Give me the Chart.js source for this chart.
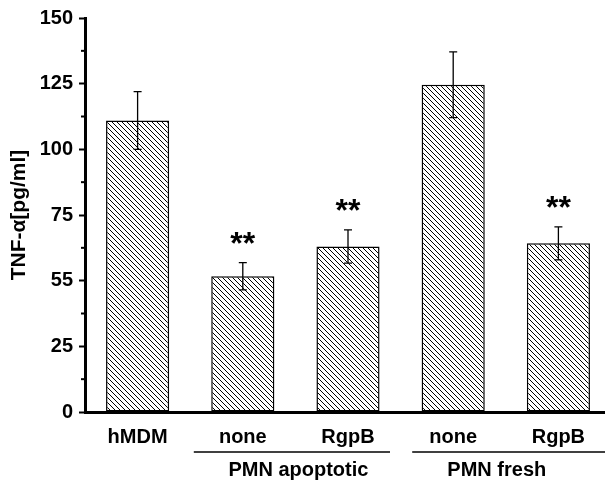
<!DOCTYPE html>
<html>
<head>
<meta charset="utf-8">
<script src="https://cdn.jsdelivr.net/npm/chart.js@4"></script>
<style>
  html, body { margin: 0; padding: 0; background: #fff; overflow: hidden; }
  #wrap { width: 611px; height: 481px; }
</style>
</head>
<body>
<div id="wrap"><canvas id="canvas" width="611" height="481"></canvas></div>
<script>
var categories = ['hMDM', 'none', 'RgpB', 'none', 'RgpB'];
var values = [111, 51.7, 63, 124.6, 64.2];
var errors = [11, 5.2, 6.3, 12.5, 6.3];
var marks = ['', '**', '**', '', '**'];
var groupLabels = ['PMN apoptotic', 'PMN fresh'];
var groupStart = [1, 3];
var groupEnd = [2, 4];
var yTicks = [0, 25, 50, 75, 100, 125, 150];
var yTickLabels = ['0', '25', '55', '75', '100', '125', '150'];

var FONT = '"Liberation Sans", Arial, Helvetica, sans-serif';

function hatch() {
    var c = document.createElement('canvas');
    var s = 5;
    c.width = s; c.height = s;
    var g = c.getContext('2d');
    g.fillStyle = '#fff';
    g.fillRect(0, 0, s, s);
    g.strokeStyle = '#000';
    g.lineWidth = 1;
    g.beginPath();
    g.moveTo(-1, -1); g.lineTo(s + 1, s + 1);
    g.moveTo(-1, s - 1); g.lineTo(1, s + 1);
    g.moveTo(s - 1, -1); g.lineTo(s + 1, 1);
    g.stroke();
    return g.createPattern(c, 'repeat');
}

var extras = {
    id: 'extras',
    afterDatasetsDraw: function (chart) {
        var ctx = chart.ctx;
        var y = chart.scales.y;
        var x = chart.scales.x;
        var meta = chart.getDatasetMeta(0);
        ctx.save();
        // error bars
        ctx.strokeStyle = '#000';
        ctx.lineWidth = 1.3;
        meta.data.forEach(function (bar, i) {
            var top = y.getPixelForValue(values[i] + errors[i]);
            var bot = y.getPixelForValue(values[i] - errors[i]);
            ctx.beginPath();
            ctx.moveTo(bar.x, top); ctx.lineTo(bar.x, bot);
            ctx.moveTo(bar.x - 4, top); ctx.lineTo(bar.x + 4, top);
            ctx.moveTo(bar.x - 4, bot); ctx.lineTo(bar.x + 4, bot);
            ctx.stroke();
            if (marks[i]) {
                ctx.fillStyle = '#000';
                ctx.font = 'bold 32px ' + FONT;
                ctx.textAlign = 'center';
                ctx.textBaseline = 'alphabetic';
                ctx.fillText(marks[i], bar.x, top - 9);
            }
        });
        // minor ticks on y
        ctx.lineWidth = 2;
        for (var v = 12.5; v < 150; v += 25) {
            var py = y.getPixelForValue(v);
            ctx.beginPath();
            ctx.moveTo(chart.chartArea.left - 4, py);
            ctx.lineTo(chart.chartArea.left, py);
            ctx.stroke();
        }
        // group labels
        ctx.lineWidth = 1.3;
        ctx.font = 'bold 20px ' + FONT;
        ctx.textAlign = 'center';
        ctx.textBaseline = 'middle';
        groupLabels.forEach(function (lab, g) {
            var a = x.getPixelForValue(groupStart[g]);
            var b = x.getPixelForValue(groupEnd[g]);
            var x0 = g === 0 ? a - 49 : a - 41;
            var x1 = g === 0 ? b + 42 : b + 60;
            ctx.beginPath();
            ctx.moveTo(x0, 452); ctx.lineTo(x1, 452);
            ctx.stroke();
            ctx.fillText(lab, (a + b) / 2 + (g === 0 ? 3 : -9), 470);
        });
        ctx.restore();
    }
};

window.onload = function () {
    var ctx = document.getElementById('canvas').getContext('2d');
    new Chart(ctx, {
        type: 'bar',
        data: {
            labels: categories,
            datasets: [{
                data: values,
                backgroundColor: hatch(),
                borderColor: '#000',
                borderWidth: 1.5,
                borderSkipped: false,
                barPercentage: 0.6,
                categoryPercentage: 1
            }]
        },
        options: {
            responsive: false,
            animation: false,
            layout: { padding: { top: 15, right: 0, left: 0, bottom: 0 } },
            plugins: { legend: { display: false }, tooltip: { enabled: false } },
            scales: {
                x: {
                    grid: { display: false, drawTicks: false },
                    border: { color: '#000', width: 3 },
                    ticks: { color: '#000', padding: 13, font: { family: FONT, size: 20, weight: 'bold' }, maxRotation: 0 },
                    afterFit: function (s) { s.height = 69; }
                },
                y: {
                    min: 0, max: 150,
                    afterBuildTicks: function (s) { s.ticks = yTicks.map(function (v) { return { value: v }; }); },
                    grid: { drawOnChartArea: false, tickLength: 6, tickColor: '#000', tickWidth: 2 },
                    border: { color: '#000', width: 3 },
                    ticks: {
                        color: '#000', padding: 6,
                        font: { family: FONT, size: 20, weight: 'bold' },
                        callback: function (v) { return yTickLabels[yTicks.indexOf(v)]; }
                    },
                    title: {
                        display: true, text: 'TNF-α[pg/ml]', color: '#000', padding: { top: 7, bottom: 0 },
                        font: { family: FONT, size: 21, weight: 'bold' }
                    },
                    afterFit: function (s) { s.width = 85; }
                }
            }
        },
        plugins: [extras]
    });
};
</script>
</body>
</html>
